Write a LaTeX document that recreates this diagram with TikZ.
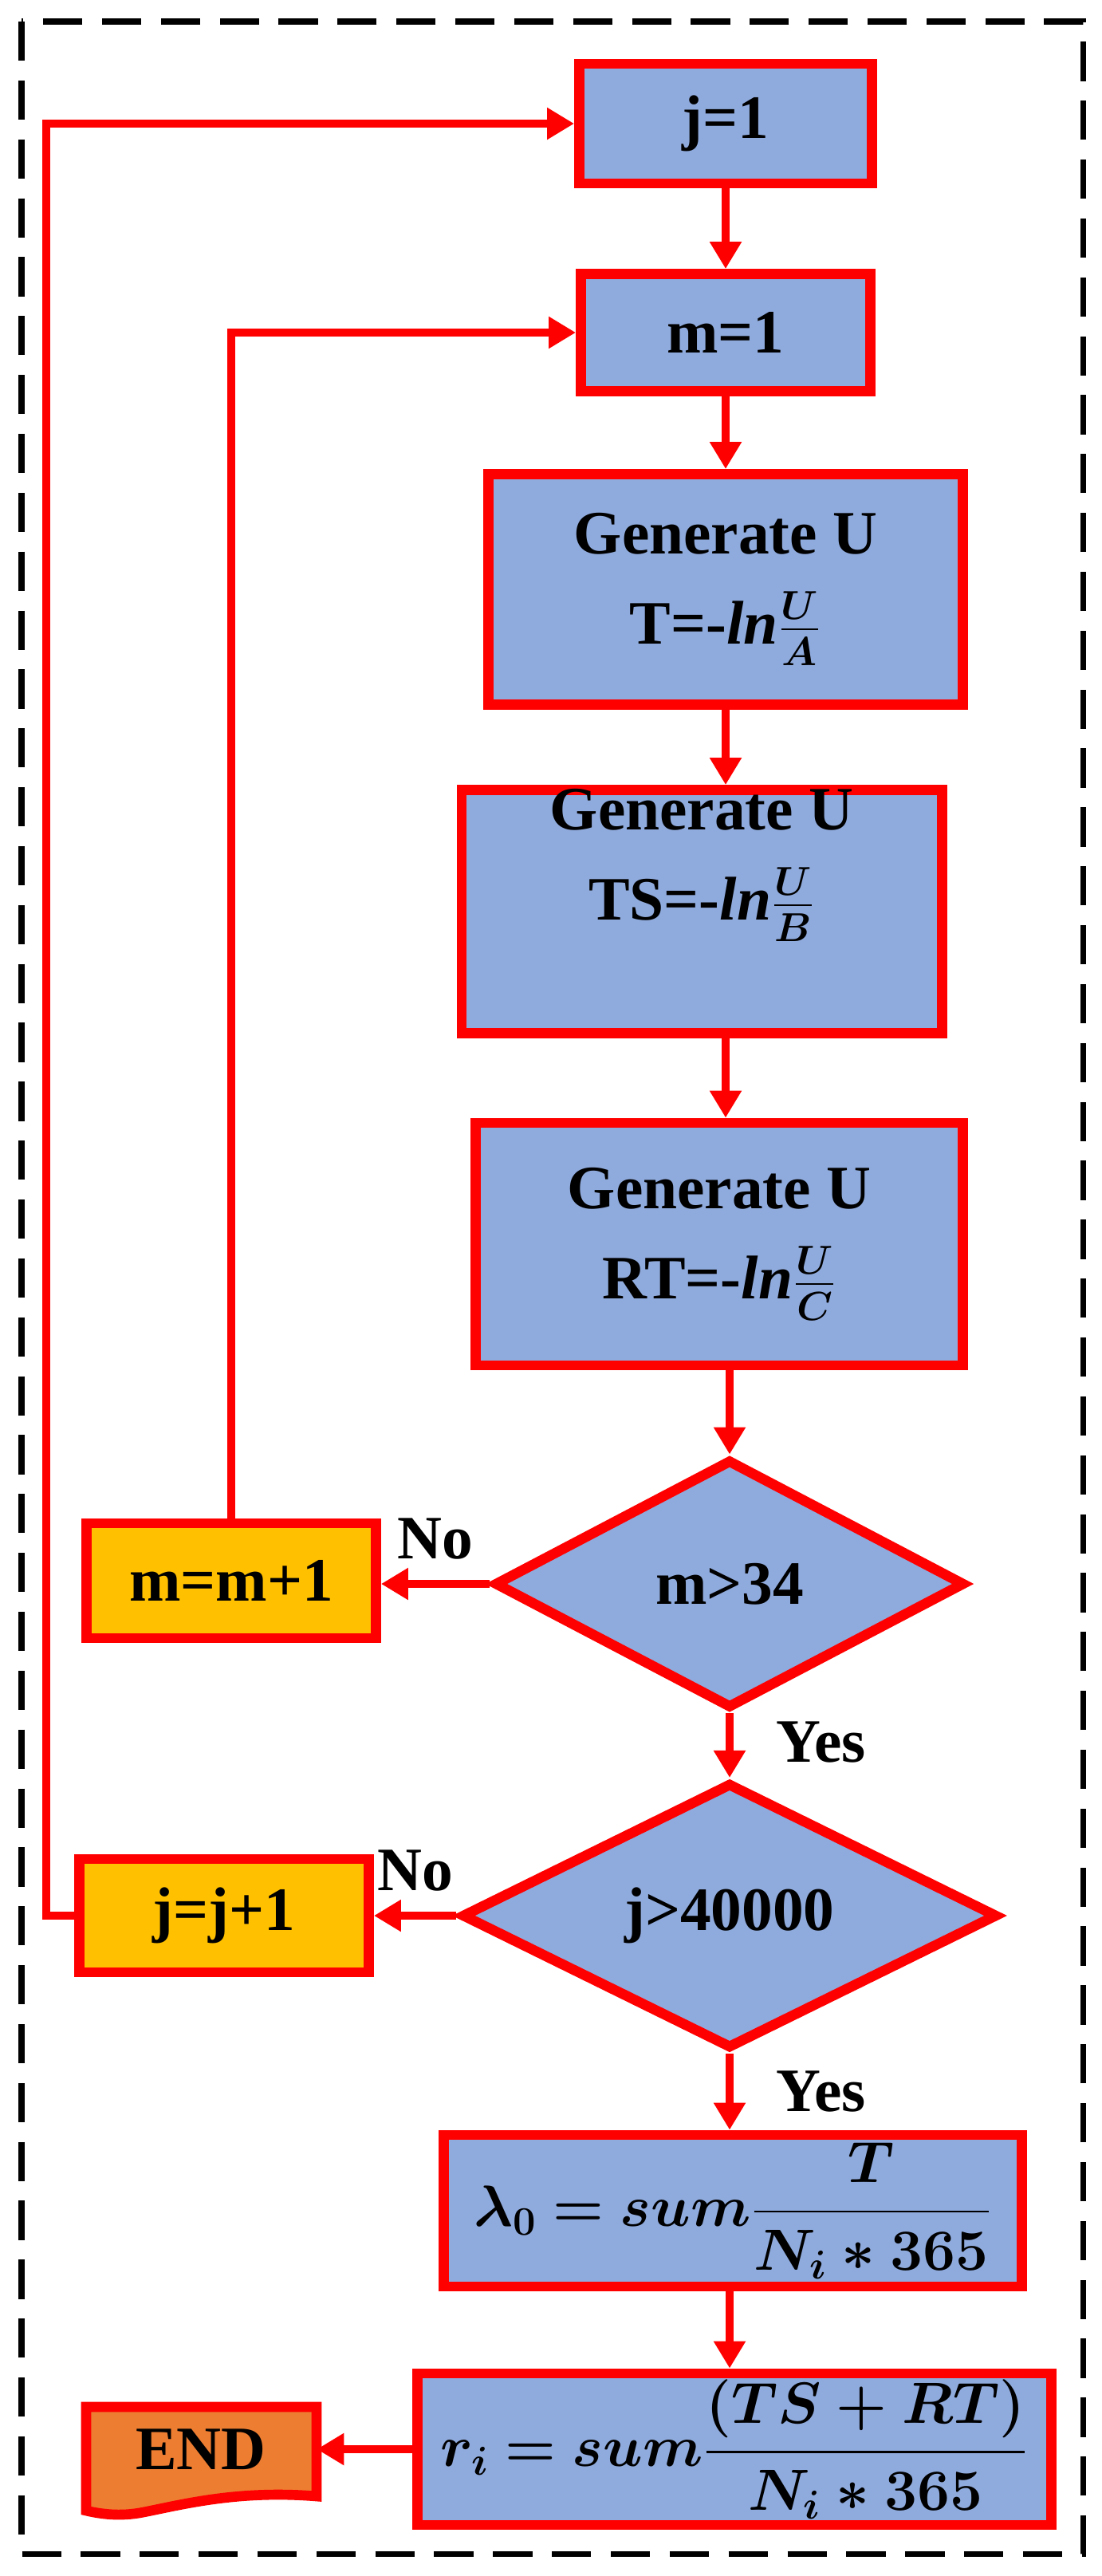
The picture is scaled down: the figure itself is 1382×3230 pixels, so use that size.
\documentclass[tikz,border=0pt]{standalone}
\usepackage{fontspec}
\usepackage{amsmath,bm}
\setmainfont{Liberation Serif}
\usetikzlibrary{shapes.geometric,arrows.meta}
\definecolor{boxblue}{HTML}{8FAADC}
\definecolor{boxorange}{HTML}{FFC000}
\definecolor{endorange}{HTML}{ED7D31}
\definecolor{lred}{HTML}{FF0000}
\begin{document}
\begin{tikzpicture}[x=0.01cm,y=-0.01cm,
  box/.style={draw=lred,line width=3.6pt,fill=boxblue,inner sep=0pt,align=center,font=\fontsize{22}{30}\selectfont\bfseries},
  ybox/.style={box,fill=boxorange},
  dec/.style={box,diamond},
  arr/.style={draw=lred,line width=2.8pt,-{Triangle[length=0.34cm,width=0.38cm]}},
  lab/.style={font=\fontsize{22}{26}\selectfont\bfseries}]
\useasboundingbox (0,0) rectangle (1382,3230);
\draw[line width=2pt,dash pattern=on 14pt off 7pt] (27,27) rectangle (1358,3202);
\node[box,minimum width=3.67cm,minimum height=1.50cm] (j1) at (910,155) {j=1};
\node[box,minimum width=3.63cm,minimum height=1.47cm] (m1) at (910,417) {m=1};
\node[box,minimum width=5.95cm,minimum height=2.89cm] (T) at (910,739) {Generate U\\[2pt] T=-$\bm{\mathit{ln}\frac{U}{A}}$};
\node[box,minimum width=6.02cm,minimum height=3.05cm] (TS) at (880,1143) {};
\node[font=\fontsize{22}{30}\selectfont\bfseries,align=center,inner sep=0pt] (TStext) at (880,1085) {Generate U\\[2pt] TS=-$\bm{\mathit{ln}\frac{U}{B}}$};
\node[box,minimum width=6.11cm,minimum height=3.04cm] (RT) at (902,1560) {Generate U\\[2pt] RT=-$\bm{\mathit{ln}\frac{U}{C}}$};
\node[dec,minimum width=5.90cm,minimum height=3.12cm] (dm) at (915,1986) {m>34};
\node[dec,minimum width=6.72cm,minimum height=3.12cm] (dj) at (915,2402) {j>40000};
\node[ybox,minimum width=3.63cm,minimum height=1.44cm] (mm) at (290,1982) {m=m+1};
\node[ybox,minimum width=3.63cm,minimum height=1.42cm] (jj) at (281,2402) {j=j+1};
\node[box,minimum width=7.25cm,minimum height=1.90cm] (lam) at (919,2772) {$\displaystyle\bm{\lambda_0 = sum\frac{T}{N_i*365}}$};
\node[box,minimum width=7.94cm,minimum height=1.90cm] (r) at (921,3071) {$\displaystyle\bm{r_i = sum\frac{(TS+RT)}{N_i*365}}$};
\draw[draw=lred,line width=3.6pt,fill=endorange] (108,3018) -- (397,3018) -- (397,3130)
   .. controls (300,3122) and (230,3140) .. (180,3150) .. controls (150,3156) and (125,3152) .. (108,3148) -- cycle;
\node[font=\fontsize{22}{26}\selectfont\bfseries,inner sep=0pt,minimum width=2.89cm,minimum height=1.1cm] (end) at (252,3071) {END};
\draw[arr] (j1) -- (m1);
\draw[arr] (m1) -- (T);
\draw[arr] (T.south) -- (T.south |- TS.north);
\draw[arr] (T.south |- TS.south) -- (T.south |- RT.north);
\draw[arr] (RT.south -| dm.north) -- (dm.north);
\draw[arr] (dm.west) -- node[lab,above,pos=0.5,yshift=4pt]{No} (dm.west -| mm.east);
\draw[arr] (dj.west) -- node[lab,above,pos=0.5,yshift=4pt]{No} (dj.west -| jj.east);
\draw[arr] (dm.south) -- node[lab,right,xshift=12pt,pos=0.45]{Yes} (dj.north);
\draw[arr] (dj.south) -- node[lab,right,xshift=12pt,pos=0.5]{Yes} (dj.south |- lam.north);
\draw[arr] (dj.south |- lam.south) -- (dj.south |- r.north);
\draw[arr] (r.west) -- (end.east);
\coordinate (jl) at (58,2402);
\draw[arr] (jj.west) -- (jl) |- (j1.west);
\draw[arr] (mm.north) |- (m1.west);
\end{tikzpicture}
\end{document}
